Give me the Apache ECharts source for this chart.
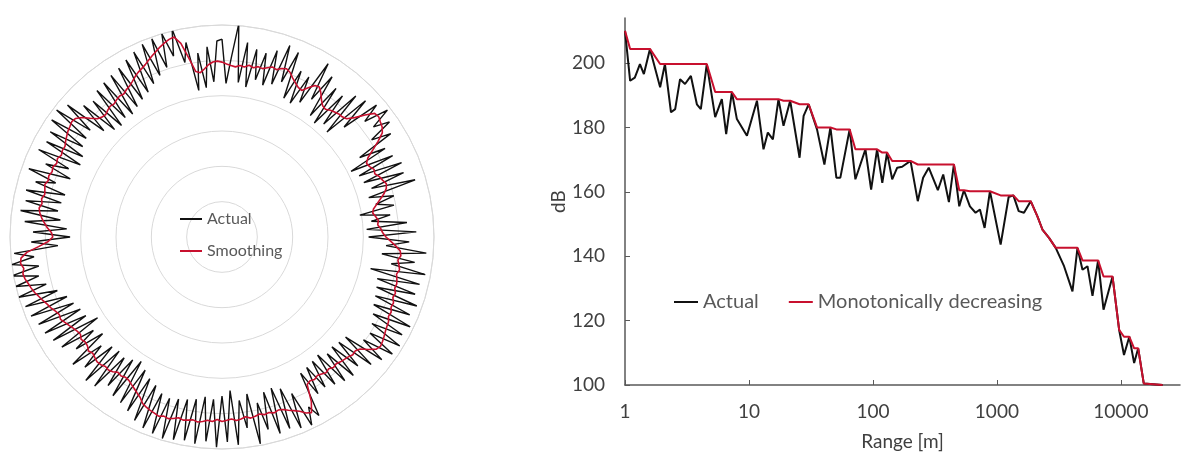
<!DOCTYPE html>
<html>
<head>
<meta charset="utf-8">
<script src="https://cdn.jsdelivr.net/npm/echarts@6.0.0/dist/echarts.min.js"></script>
<style>
  html, body { margin: 0; padding: 0; background: #fff; }
  #chart { width: 1185px; height: 458px; }
</style>
</head>
<body>
<div id="chart"></div>
<script>
// left: polar plot, one value per 1.5 degree step, clockwise from the top
const polarActual = [
  56.0, 43.5, 51.0, 60.5, 44.0, 55.5, 43.0, 54.0, 45.5, 53.5,
  44.5, 55.0, 45.5, 57.5, 47.0, 56.5, 43.0, 52.0, 42.5, 51.5,
  44.0, 57.5, 46.5, 55.0, 42.5, 53.0, 41.5, 52.5, 43.0, 55.0,
  42.0, 56.0, 46.5, 57.5, 52.0, 59.0, 53.0, 57.5, 50.5, 56.0,
  45.0, 52.5, 41.0, 53.5, 42.5, 55.0, 43.0, 54.5, 44.5, 57.0,
  43.0, 50.0, 44.5, 49.5, 39.5, 48.0, 42.5, 52.5, 41.0, 55.0,
  41.5, 53.0, 46.5, 58.0, 45.5, 55.0, 48.5, 58.5, 43.0, 57.5,
  45.5, 57.0, 46.0, 58.5, 46.5, 57.5, 47.0, 59.0, 48.0, 58.0,
  49.0, 59.0, 50.0, 58.5, 49.5, 57.0, 45.0, 55.5, 44.5, 53.0,
  44.0, 54.0, 44.5, 53.5, 43.0, 52.5, 43.5, 51.5, 44.0, 52.0,
  44.5, 57.5, 54.0, 59.0, 48.5, 58.5, 46.0, 57.5, 45.0, 58.0,
  45.5, 56.0, 48.0, 59.5, 45.0, 54.5, 46.5, 59.0, 43.5, 58.0,
  45.0, 59.5, 46.0, 58.0, 45.5, 59.0, 46.5, 58.5, 47.0, 59.0,
  47.5, 59.5, 48.0, 59.0, 47.5, 58.5, 46.0, 57.5, 45.0, 56.0,
  43.5, 55.0, 42.0, 54.5, 43.0, 53.0, 44.0, 55.5, 43.5, 56.0,
  44.0, 53.5, 46.0, 55.5, 43.5, 52.0, 45.0, 55.0, 42.0, 56.0,
  44.5, 57.0, 45.0, 57.5, 46.0, 58.5, 47.0, 59.0, 49.0, 60.0,
  51.5, 60.0, 53.0, 60.5, 52.5, 60.0, 53.5, 59.0, 46.5, 54.0,
  43.0, 53.5, 44.0, 56.0, 46.0, 57.5, 47.0, 56.5, 46.5, 57.0,
  46.0, 55.0, 49.5, 58.0, 46.0, 54.0, 47.5, 57.5, 45.0, 56.5,
  45.5, 57.0, 47.0, 58.5, 47.5, 59.0, 48.0, 57.5, 45.0, 54.0,
  43.0, 53.0, 42.5, 54.5, 43.5, 55.0, 43.0, 55.5, 44.0, 56.0,
  45.0, 57.0, 46.0, 58.0, 47.5, 59.0, 49.0, 59.5, 50.5, 60.0,
  53.0, 60.5, 50.5, 56.0, 42.0, 52.5, 42.5, 54.0, 44.0, 55.5
];
const polarSmooth = [
  49.5, 49.0, 48.6, 48.3, 48.8, 48.5, 49.2, 48.7, 49.3, 49.0,
  49.6, 50.2, 49.8, 50.6, 51.0, 50.4, 49.2, 48.3, 47.5, 47.2,
  48.8, 50.3, 50.6, 49.4, 47.9, 46.8, 46.5, 47.2, 47.6, 48.0,
  48.1, 48.6, 50.5, 53.2, 55.6, 55.9, 55.4, 55.0, 54.1, 51.8,
  49.3, 47.0, 45.9, 46.3, 47.1, 46.8, 47.7, 48.2, 48.9, 48.5,
  47.5, 46.1, 44.8, 43.6, 43.2, 43.9, 44.5, 44.2, 45.0, 45.5,
  46.4, 47.8, 49.3, 50.6, 50.9, 50.2, 50.7, 51.1, 50.5, 50.9,
  51.2, 51.0, 51.6, 51.3, 52.0, 51.8, 52.4, 52.2, 52.9, 53.1,
  53.4, 53.8, 54.2, 54.5, 54.0, 52.3, 50.4, 49.6, 49.8, 49.3,
  49.0, 48.7, 48.3, 48.6, 48.0, 48.4, 47.9, 47.6, 48.1, 47.7,
  48.2, 53.0, 55.8, 55.2, 54.0, 53.2, 52.5, 51.8, 51.5, 51.9,
  51.4, 51.7, 51.2, 51.6, 51.9, 51.3, 51.8, 52.1, 51.6, 51.9,
  52.2, 51.7, 52.3, 52.0, 52.5, 52.8, 52.4, 52.7, 53.0, 52.6,
  53.2, 53.6, 53.3, 53.8, 53.4, 53.1, 52.7, 52.2, 51.0, 50.3,
  49.6, 49.0, 48.4, 48.2, 48.6, 48.3, 49.1, 49.5, 49.3, 49.8,
  50.0, 49.6, 49.2, 49.7, 49.0, 48.8, 49.3, 48.6, 48.9, 49.4,
  50.0, 50.6, 51.3, 51.0, 51.6, 52.4, 53.0, 53.8, 54.5, 55.3,
  55.9, 56.4, 57.0, 57.3, 56.8, 57.5, 57.2, 55.4, 52.0, 49.2,
  47.9, 48.3, 49.5, 50.4, 51.3, 52.0, 52.4, 51.8, 52.2, 51.6,
  51.9, 52.3, 51.7, 52.0, 51.5, 51.8, 51.2, 51.6, 51.0, 51.4,
  51.3, 51.9, 52.4, 52.9, 53.2, 53.6, 53.3, 52.1, 50.2, 48.6,
  48.0, 47.8, 48.3, 48.7, 48.5, 49.0, 49.3, 49.1, 49.7, 50.1,
  50.8, 51.6, 52.3, 52.8, 53.4, 54.2, 55.0, 55.8, 56.6, 57.3,
  57.9, 58.2, 56.0, 51.5, 47.4, 46.9, 47.8, 48.9, 49.6, 49.8
];

// right: level vs range (log scale)
const rangeM = [
  1, 1.10, 1.20, 1.32, 1.42, 1.59, 1.92, 2.10, 2.35, 2.54,
  2.78, 3.05, 3.40, 3.80, 4.09, 4.57, 5.34, 6.04, 6.55, 7.28,
  7.99, 9.63, 11.6, 13.1, 14.2, 15.6, 17.3, 19.0, 21.5, 25.6,
  27.6, 30.3, 35.4, 40.6, 45.4, 50.7, 54.6, 64.9, 72.2, 87.0,
  96.7, 108, 119, 130, 143, 157, 172, 201, 230, 254,
  282, 334, 369, 410, 450, 497, 542, 606, 673, 730,
  796, 879, 1072, 1244, 1358, 1499, 1654, 1874, 2123, 2330,
  2634, 2983, 3482, 4071, 4468, 4903, 5381, 5906, 6554, 7248,
  8569, 9690, 10600, 11700, 12800, 13800, 15300, 21700
];
const dbActual = [
  210.0, 194.5, 195.5, 199.7, 196.6, 204.4, 192.5, 199.7, 184.7, 185.7,
  195.0, 193.5, 196.0, 187.2, 185.7, 199.7, 183.2, 188.8, 177.9, 191.0,
  182.6, 177.4, 188.3, 173.2, 178.4, 176.3, 188.8, 180.5, 188.3, 170.6,
  183.6, 187.2, 179.4, 168.5, 180.0, 164.4, 164.4, 179.4, 163.9, 173.2,
  160.7, 173.2, 162.8, 172.2, 163.9, 167.5, 167.8, 169.6, 157.1, 164.4,
  167.5, 160.5, 165.4, 156.8, 168.5, 155.5, 160.5, 155.5, 153.5, 154.5,
  148.8, 160.2, 143.6, 158.4, 158.9, 154.0, 153.5, 157.1, 152.4, 148.3,
  145.7, 142.6, 136.9, 129.1, 142.6, 135.8, 136.9, 127.7, 138.7, 123.4,
  133.7, 117.1, 109.3, 115.0, 106.8, 111.4, 100.5, 100.0
];
const dbMono = [
  210.0, 204.4, 204.4, 204.4, 204.4, 204.4, 199.7, 199.7, 199.7, 199.7,
  199.7, 199.7, 199.7, 199.7, 199.7, 199.7, 191.0, 191.0, 191.0, 191.0,
  188.8, 188.8, 188.8, 188.8, 188.8, 188.8, 188.8, 188.3, 188.3, 187.2,
  187.2, 187.2, 180.0, 180.0, 180.0, 179.4, 179.4, 179.4, 173.2, 173.2,
  173.2, 173.2, 172.2, 172.2, 169.6, 169.6, 169.6, 169.6, 168.5, 168.5,
  168.5, 168.5, 168.5, 168.5, 168.5, 160.5, 160.5, 160.2, 160.2, 160.2,
  160.2, 160.2, 158.9, 158.9, 158.9, 157.1, 157.1, 157.1, 152.4, 148.3,
  145.7, 142.6, 142.6, 142.6, 142.6, 138.7, 138.7, 138.7, 138.7, 133.7,
  133.7, 117.1, 115.0, 115.0, 111.4, 111.4, 100.5, 100.0
];

const RED = '#c8102e';
const AXIS = '#595959';
const LABEL = '#404040';

const step = 360 / polarActual.length;
// [radius, angle] pairs, first point repeated at 360 to close the ring
const toPolar = arr => arr.map((v, i) => [v, i * step]).concat([[arr[0], 360]]);
const toXY = arr => arr.map((v, i) => [rangeM[i], v]);

const chart = echarts.init(document.getElementById('chart'));
chart.setOption({
  animation: false,
  textStyle: { fontFamily: 'Lato' },
  polar: { center: [222, 237], radius: 212 },
  radiusAxis: {
    min: 0, max: 60, interval: 10,
    axisLine: { show: false },
    axisTick: { show: false },
    axisLabel: { show: false },
    splitLine: { show: true, lineStyle: { color: '#d9d9d9', width: 1 } }
  },
  angleAxis: {
    type: 'value', min: 0, max: 360, startAngle: 90, clockwise: true,
    axisLine: { show: true, lineStyle: { color: '#d9d9d9', width: 1 } },
    axisTick: { show: false },
    axisLabel: { show: false },
    splitLine: { show: false }
  },
  grid: { left: 625, right: 5, top: 18, bottom: 73 },
  xAxis: {
    type: 'log', logBase: 10, min: 1, max: 30000,
    axisLine: { show: true, lineStyle: { color: AXIS, width: 1.5 } },
    axisTick: { show: true, inside: true, length: 5, lineStyle: { color: AXIS } },
    axisLabel: {
      fontSize: 19, color: LABEL, margin: 17, showMaxLabel: false,
      formatter: v => String(v)
    },
    splitLine: { show: false },
    name: 'Range [m]', nameLocation: 'middle', nameGap: 47,
    nameTextStyle: { fontSize: 19, color: LABEL }
  },
  yAxis: {
    type: 'value', min: 100, max: 214, interval: 20,
    axisLine: { show: true, lineStyle: { color: AXIS, width: 1.5 } },
    axisTick: { show: true, inside: true, length: 5, lineStyle: { color: AXIS } },
    axisLabel: { fontSize: 19, color: LABEL, margin: 20, showMaxLabel: false },
    splitLine: { show: false },
    name: 'dB', nameLocation: 'middle', nameGap: 56, nameRotate: 90,
    nameTextStyle: { fontSize: 19, color: LABEL }
  },
  legend: [
    {
      orient: 'vertical', left: 175, top: 206, icon: 'rect',
      itemWidth: 22, itemHeight: 2, itemGap: 16,
      data: ['Actual', 'Smoothing'],
      textStyle: { fontSize: 16, lineHeight: 14, color: AXIS }
    },
    {
      orient: 'horizontal', left: 669, top: 287, icon: 'rect',
      itemWidth: 24, itemHeight: 2, itemGap: 30,
      data: ['Actual', 'Monotonically decreasing'],
      textStyle: { fontSize: 20, lineHeight: 20, color: AXIS }
    }
  ],
  series: [
    {
      name: 'Actual', type: 'line', coordinateSystem: 'polar',
      data: toPolar(polarActual), symbol: 'none', clip: false,
      lineStyle: { color: '#111', width: 1.4 }, itemStyle: { color: '#111' }
    },
    {
      name: 'Smoothing', type: 'line', coordinateSystem: 'polar',
      data: toPolar(polarSmooth), symbol: 'none', clip: false,
      lineStyle: { color: RED, width: 1.6 }, itemStyle: { color: RED }
    },
    {
      name: 'Actual', type: 'line',
      data: toXY(dbActual), symbol: 'none',
      lineStyle: { color: '#111', width: 2 }, itemStyle: { color: '#111' }
    },
    {
      name: 'Monotonically decreasing', type: 'line',
      data: toXY(dbMono), symbol: 'none',
      lineStyle: { color: RED, width: 2 }, itemStyle: { color: RED }
    }
  ]
});
</script>
</body>
</html>
